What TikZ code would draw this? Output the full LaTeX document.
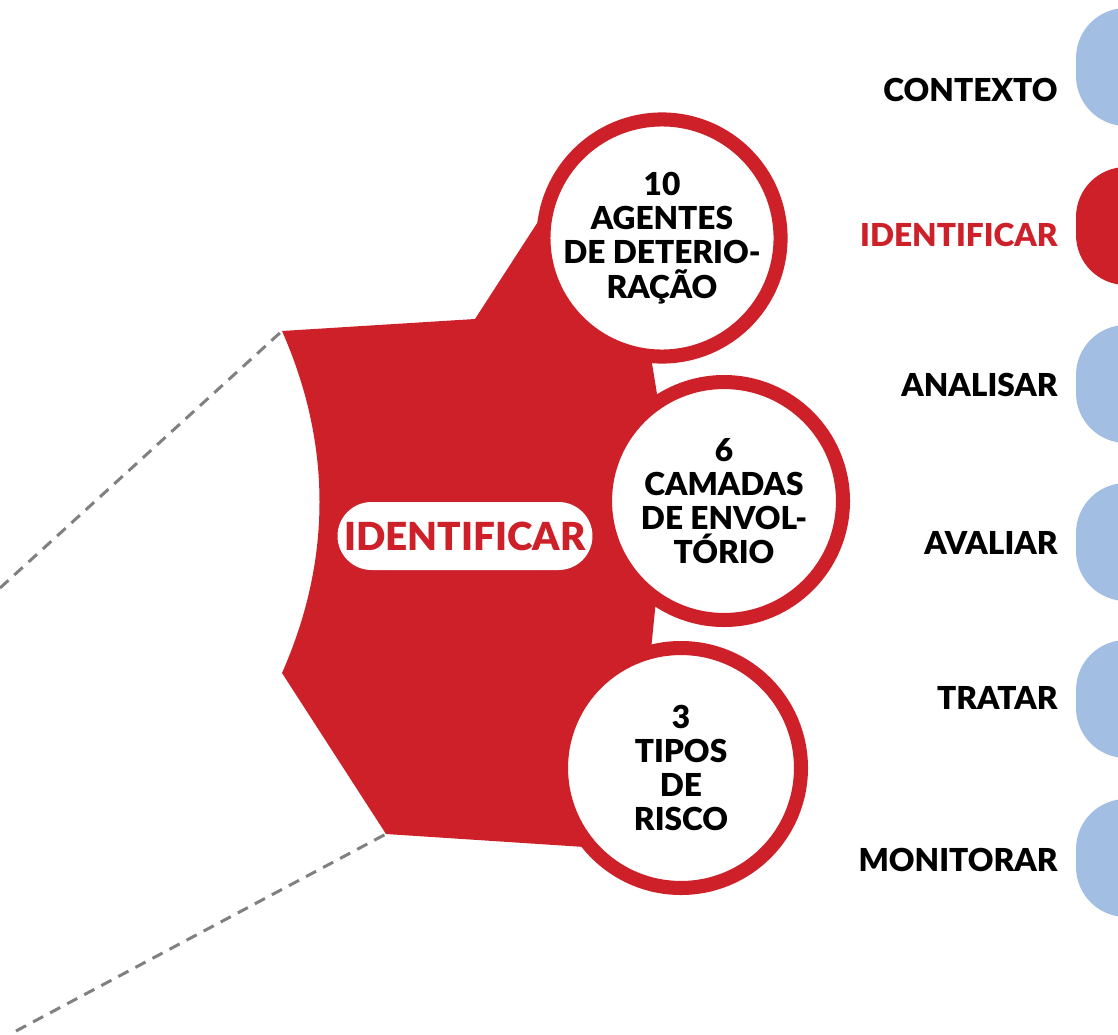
\documentclass[tikz,border=0pt]{standalone}
\usepackage{fontspec}
\setmainfont{Lato}[BoldFont={Lato Black}]
\usetikzlibrary{positioning}

\definecolor{riskred}{RGB}{206,32,41}
\definecolor{stageblue}{RGB}{162,191,227}
\definecolor{guidegray}{RGB}{128,128,128}

\begin{document}
\begin{tikzpicture}[x=0.02cm,y=-0.02cm,
    bubble/.style={circle,draw=riskred,fill=white,line width=8pt,inner sep=0pt,
      align=center,font=\bfseries\fontsize{18}{19.5}\selectfont},
    stagetab/.style={rectangle,fill=stageblue,rounded corners=1cm,
      minimum width=2cm,minimum height=2.36cm},
    stagelabel/.style={anchor=east,inner sep=0pt,font=\bfseries\fontsize{18}{21}\selectfont},
    guide/.style={draw=guidegray,line width=1.7pt,dash pattern=on 6.5pt off 4.5pt}]

      \useasboundingbox (0,0) rectangle (1118,1034);

      % corners of the red body and the free ends of the guides
      \coordinate (bodytl) at (282,331);
      \coordinate (bodybl) at (386,834);
      \coordinate (guidetop) at (0,588);
      \coordinate (guidebot) at (16,1031);

      \draw[guide] (guidetop) -- (bodytl);
      \draw[guide] (guidebot) -- (bodybl);

      \fill[riskred] (bodytl) -- (475,319) -- (565,180) -- (662,238)
        -- (649,345) -- (658,400) -- (660,500) -- (656,600) -- (651,650)
        -- (681,768) -- (600,848) -- (bodybl) -- (282,673)
        .. controls (332,560) and (332,444) .. (bodytl) -- cycle;

      \node[bubble,minimum size=4.54cm] (agents) at (662,238) {10\\AGENTES\\DE DETERIO-\\RAÇÃO};
      \node[bubble,minimum size=4.76cm] (layers) at (724,501) {6\\CAMADAS\\DE ENVOL-\\TÓRIO};
      \node[bubble,minimum size=4.8cm] (risktypes) at (681,768) {3\\TIPOS\\DE\\RISCO};

      \node[fill=white,rounded corners=0.68cm,minimum width=5.1cm,minimum height=1.36cm,
        text=riskred,font=\bfseries\fontsize{22}{24}\selectfont] (focus) at (465,536) {IDENTIFICAR};

      % process steps on the right
      \node[stagetab] (tabctx) at (1126,67) {};
      \node[stagetab,fill=riskred] (tabident) at (1126,226) {};
      \node[stagetab] (tabanal) at (1126,384) {};
      \node[stagetab] (tabeval) at (1126,542) {};
      \node[stagetab] (tabtreat) at (1126,699) {};
      \node[stagetab] (tabmon) at (1126,858) {};

      \node[stagelabel] (labctx) at (1058,90) {CONTEXTO};
      \node[stagelabel,text=riskred] (labident) at (1058,235) {IDENTIFICAR};
      \node[stagelabel] (labanal) at (1058,385) {ANALISAR};
      \node[stagelabel] (labeval) at (1058,543) {AVALIAR};
      \node[stagelabel] (labtreat) at (1058,698) {TRATAR};
      \node[stagelabel] (labmon) at (1058,860) {MONITORAR};

\end{tikzpicture}
\end{document}
